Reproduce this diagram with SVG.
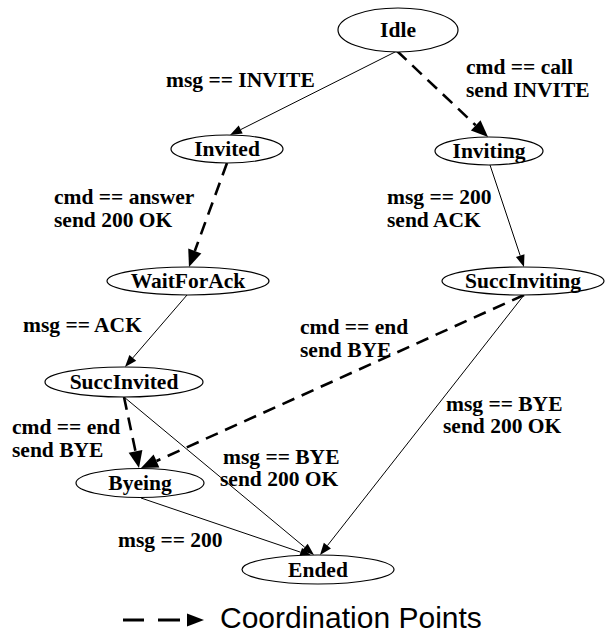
<svg xmlns="http://www.w3.org/2000/svg" width="605" height="635" viewBox="0 0 605 635">
<defs>
<style>
.node ellipse{fill:#fff;stroke:#000;stroke-width:1.2}
.nt{font-family:"Liberation Serif","Times New Roman",serif;font-weight:bold;font-size:21.5px;text-anchor:middle;fill:#000}
.lbl{font-family:"Liberation Serif","Times New Roman",serif;font-weight:bold;font-size:21.5px;fill:#000}
.solid{fill:none;stroke:#000;stroke-width:1}
.dash{fill:none;stroke:#000;stroke-width:2.6;stroke-dasharray:13 8}
.leg{font-family:"Liberation Sans",Arial,sans-serif;font-size:30px;fill:#000}
</style>
<marker id="ah" markerUnits="userSpaceOnUse" markerWidth="14" markerHeight="12" refX="0" refY="0" viewBox="0 -6 14 12" orient="auto" overflow="visible"><path d="M0,-4.5 L12,0 L0,4.5 Z" fill="#000"/></marker>
<marker id="ahd" markerUnits="userSpaceOnUse" markerWidth="18" markerHeight="16" refX="0" refY="0" viewBox="0 -8 18 16" orient="auto" overflow="visible"><path d="M0,-7 L17,0 L0,7 Z" fill="#000"/></marker>
</defs>
<rect width="605" height="635" fill="#fff"/>
<g id="edges">
<line class="solid" x1="397" y1="51" x2="240.7" y2="129.6" marker-end="url(#ah)"/>
<line class="dash" x1="397" y1="51" x2="475.7" y2="125.3" marker-end="url(#ahd)"/>
<line class="dash" x1="227" y1="163" x2="194.8" y2="251.0" marker-end="url(#ahd)"/>
<line class="solid" x1="490" y1="165" x2="520.2" y2="255.6" marker-end="url(#ah)"/>
<line class="solid" x1="187" y1="295" x2="132.8" y2="357.9" marker-end="url(#ah)"/>
<line class="dash" x1="524" y1="295" x2="156.5" y2="461.0" marker-end="url(#ahd)"/>
<line class="solid" x1="524" y1="295" x2="327.4" y2="545.6" marker-end="url(#ah)"/>
<line class="dash" x1="124" y1="397" x2="135.5" y2="451.4" marker-end="url(#ahd)"/>
<line class="solid" x1="124" y1="397" x2="304.8" y2="547.3" marker-end="url(#ah)"/>
<line class="solid" x1="141" y1="498" x2="300.6" y2="552.2" marker-end="url(#ah)"/>
</g>
<g id="edge-labels">
<text class="lbl" x="166" y="87">msg == INVITE</text>
<text class="lbl" x="466" y="74">cmd == call</text>
<text class="lbl" x="466" y="97">send INVITE</text>
<text class="lbl" x="54" y="204">cmd == answer</text>
<text class="lbl" x="54" y="227">send 200 OK</text>
<text class="lbl" x="387" y="204">msg == 200</text>
<text class="lbl" x="387" y="227">send ACK</text>
<text class="lbl" x="23" y="332">msg == ACK</text>
<text class="lbl" x="300" y="334">cmd == end</text>
<text class="lbl" x="300" y="357">send BYE</text>
<text class="lbl" x="446" y="411">msg == BYE</text>
<text class="lbl" x="443" y="433">send 200 OK</text>
<text class="lbl" x="12" y="434">cmd == end</text>
<text class="lbl" x="12" y="457">send BYE</text>
<text class="lbl" x="223" y="464">msg == BYE</text>
<text class="lbl" x="220" y="486">send 200 OK</text>
<text class="lbl" x="118" y="547">msg == 200</text>
</g>
<g id="Idle" class="node"><ellipse cx="398" cy="30" rx="60" ry="22"/><text class="nt" x="398" y="37">Idle</text></g>
<g id="Invited" class="node"><ellipse cx="227" cy="149" rx="56" ry="14"/><text class="nt" x="227" y="156">Invited</text></g>
<g id="Inviting" class="node"><ellipse cx="489" cy="151" rx="54" ry="14"/><text class="nt" x="489" y="158">Inviting</text></g>
<g id="WaitForAck" class="node"><ellipse cx="188" cy="281" rx="81" ry="14"/><text class="nt" x="188" y="288">WaitForAck</text></g>
<g id="SuccInviting" class="node"><ellipse cx="523" cy="281" rx="81" ry="14"/><text class="nt" x="523" y="288">SuccInviting</text></g>
<g id="SuccInvited" class="node"><ellipse cx="124" cy="382" rx="79" ry="15"/><text class="nt" x="124" y="389">SuccInvited</text></g>
<g id="Byeing" class="node"><ellipse cx="140" cy="483" rx="64" ry="14.5"/><text class="nt" x="140" y="490">Byeing</text></g>
<g id="Ended" class="node"><ellipse cx="318" cy="569.5" rx="76" ry="14.5"/><text class="nt" x="318" y="576.5">Ended</text></g>
<g id="legend">
<line x1="123" y1="620" x2="144" y2="620" stroke="#000" stroke-width="3"/>
<line x1="158" y1="620" x2="180" y2="620" stroke="#000" stroke-width="3"/>
<path d="M187,613.5 L204,620 L187,626.5 Z" fill="#000"/>
<text class="leg" x="220" y="628">Coordination Points</text>
</g>
</svg>
